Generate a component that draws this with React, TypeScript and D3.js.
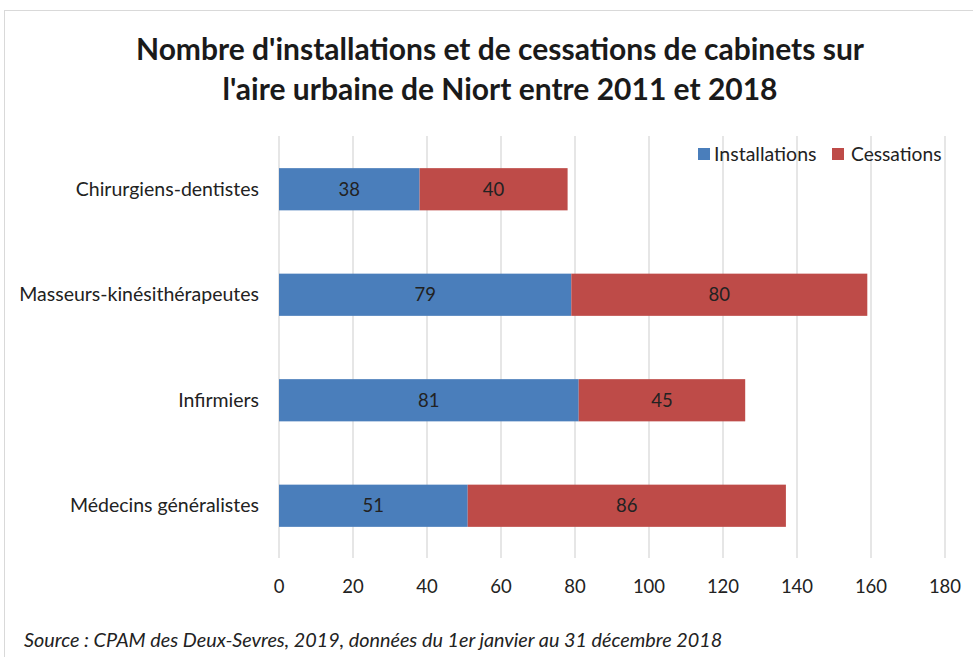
import React from "react";
import * as d3 from "d3";

const categories = ["Chirurgiens-dentistes", "Masseurs-kinésithérapeutes", "Infirmiers ", "Médecins généralistes"];
const installations = [38, 79, 81, 51];
const cessations = [40, 80, 45, 86];
const seriesNames = ["Installations", "Cessations"];
const ticks = [0, 20, 40, 60, 80, 100, 120, 140, 160, 180];

const W = 973, H = 657;
const FONT = "Lato, 'Open Sans', sans-serif";
const colors = ["#4a7ebb", "#be4b48"];
const FS = 18.5;

export default function App() {
  const x = d3.scaleLinear().domain([0, 180]).range([279, 945]);
  const y = d3.scaleBand().domain(categories).range([136.5, 558.5]).paddingInner(0.6).paddingOuter(0.3);
  const bw = y.bandwidth();
  return (
    <svg width={W} height={H} style={{ position: "absolute", left: 0, top: 0, fontFamily: FONT }}>
      <rect x={0} y={0} width={W} height={H} fill="#fff" />
      <rect x={4.5} y={10.5} width={1000} height={700} fill="#fff" stroke="#d9d9d9" strokeWidth={1} />
      <text x={500} y={60} textAnchor="middle" fontSize={30} fontWeight="bold" fill="#1a1a1a">Nombre d'installations et de cessations de cabinets sur</text>
      <text x={500} y={100} textAnchor="middle" fontSize={30} fontWeight="bold" fill="#1a1a1a">l'aire urbaine de Niort entre 2011 et 2018</text>
      {ticks.map((t) => (
        <g key={t}>
          <line x1={x(t)} x2={x(t)} y1={136} y2={558} stroke="#d9d9d9" strokeWidth={1.3} />
          <text x={x(t)} y={593} textAnchor="middle" fontSize={FS} fill="#222">{t}</text>
        </g>
      ))}
      {categories.map((c, i) => {
        const y0 = y(c)!;
        return (
          <g key={c}>
            <rect x={x(0)} y={y0} width={x(installations[i]) - x(0)} height={bw} fill={colors[0]} />
            <rect x={x(installations[i])} y={y0} width={x(installations[i] + cessations[i]) - x(installations[i])} height={bw} fill={colors[1]} />
            <text x={(x(0) + x(installations[i])) / 2} y={y0 + bw / 2 + 6.5} textAnchor="middle" fontSize={FS} fill="#222">{installations[i]}</text>
            <text x={(x(installations[i]) + x(installations[i] + cessations[i])) / 2} y={y0 + bw / 2 + 6.5} textAnchor="middle" fontSize={FS} fill="#222">{cessations[i]}</text>
            <text x={259} y={y0 + bw / 2 + 6.5} textAnchor="end" fontSize={19.5} fill="#222">{c}</text>
          </g>
        );
      })}
      <rect x={698} y={148} width={12} height={12} fill={colors[0]} />
      <text x={714} y={161} fontSize={19.5} fill="#222">{seriesNames[0]}</text>
      <rect x={832} y={148} width={12} height={12} fill={colors[1]} />
      <text x={851} y={161} fontSize={19.2} fill="#222">{seriesNames[1]}</text>
      <text x={24} y={647} fontSize={19.8} fontStyle="italic" fill="#222">Source : CPAM des Deux-Sevres, 2019, données du 1er janvier au 31 décembre 2018</text>
    </svg>
  );
}
